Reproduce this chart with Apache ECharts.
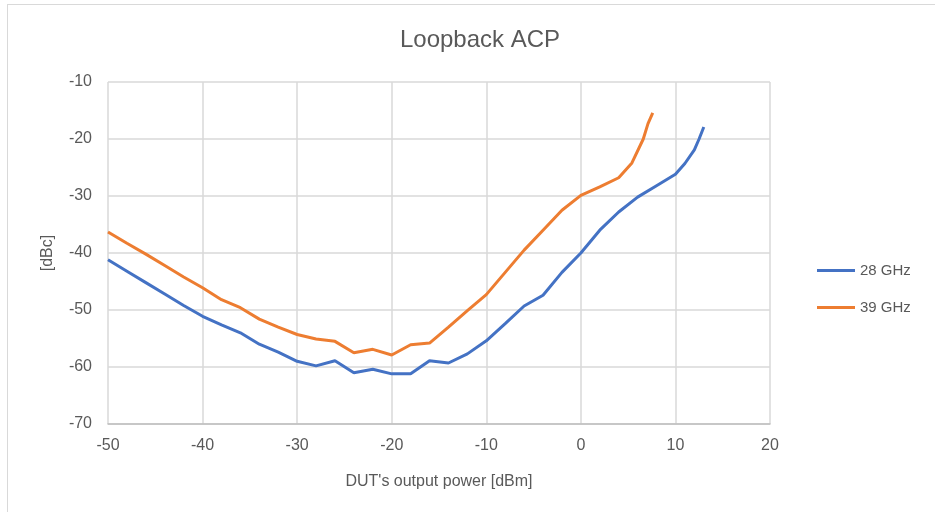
<!DOCTYPE html>
<html>
<head>
<meta charset="utf-8">
<script src="https://cdn.jsdelivr.net/npm/echarts@6/dist/echarts.min.js"></script>
<style>
  html, body { margin: 0; padding: 0; background: #fff; }
  #frame { position: absolute; left: 7px; top: 4px; width: 940px; height: 520px; border: 1px solid #d9d9d9; box-sizing: border-box; }
  #main { position: absolute; left: 0; top: 0; width: 935px; height: 512px; }
</style>
</head>
<body>
<div id="frame"></div>
<div id="main"></div>
<script>
// output power [dBm] and ACP [dBc]
const power28 = [-50, -48, -46, -44, -42, -40, -38, -36, -34, -32, -30, -28, -26, -24, -22, -20, -18, -16, -14, -12, -10, -8, -6, -4, -2, 0, 2, 4, 6, 8, 10, 11, 12, 12.5, 13];
const acp28 = [-41.2, -43.2, -45.2, -47.2, -49.2, -51.1, -52.6, -54.0, -56.0, -57.4, -59.0, -59.8, -58.9, -61.0, -60.4, -61.2, -61.2, -58.9, -59.3, -57.7, -55.4, -52.4, -49.3, -47.4, -43.4, -40.0, -36.0, -32.8, -30.2, -28.2, -26.2, -24.3, -21.9, -20.0, -17.9];

const power39 = [-50, -48, -46, -44, -42, -40, -38, -36, -34, -32, -30, -28, -26, -24, -22, -20, -18, -16, -14, -12, -10, -8, -6, -4, -2, 0, 2, 4, 5.4, 6.6, 7.1, 7.6];
const acp39 = [-36.3, -38.3, -40.2, -42.2, -44.2, -46.1, -48.2, -49.6, -51.6, -53.0, -54.3, -55.1, -55.5, -57.5, -56.9, -57.9, -56.1, -55.8, -53.0, -50.1, -47.3, -43.4, -39.5, -36.0, -32.5, -29.9, -28.4, -26.8, -24.2, -20.0, -17.3, -15.4];

const zip = (xs, ys) => xs.map((x, i) => [x, ys[i]]);

const chart = echarts.init(document.getElementById('main'), null, { renderer: 'canvas' });
const font = 'Liberation Sans, Arial, sans-serif';

chart.setOption({
  animation: false,
  textStyle: { fontFamily: font },
  title: {
    text: 'Loopback ACP',
    left: 475, top: 23, textAlign: 'center',
    textStyle: { fontSize: 24, fontWeight: 'normal', color: '#595959', fontFamily: font }
  },
  legend: {
    orient: 'vertical',
    left: 812, top: 258,
    itemGap: 22,
    itemWidth: 38, itemHeight: 3,
    icon: 'rect',
    textStyle: { fontSize: 15, color: '#595959', fontFamily: font },
    data: ['28 GHz', '39 GHz']
  },
  grid: { left: 108, right: 165, top: 82, bottom: 88 },
  xAxis: {
    type: 'value',
    min: -50, max: 20, interval: 10,
    name: "DUT's output power [dBm]",
    nameLocation: 'middle', nameGap: 50,
    nameTextStyle: { fontSize: 16, color: '#595959' },
    axisLine: { onZero: false, lineStyle: { color: '#bfbfbf', width: 1.5 } },
    axisTick: { show: false },
    axisLabel: { fontSize: 16, color: '#595959', margin: 14 },
    splitLine: { lineStyle: { color: '#d9d9d9', width: 1.5 } }
  },
  yAxis: {
    type: 'value',
    min: -70, max: -10, interval: 10,
    name: '[dBc]',
    nameLocation: 'middle', nameGap: 52, nameRotate: 90,
    nameTextStyle: { fontSize: 16, color: '#595959' },
    axisLine: { show: false },
    axisTick: { show: false },
    axisLabel: { fontSize: 16, color: '#595959', margin: 16 },
    splitLine: { lineStyle: { color: '#d9d9d9', width: 1.5 } }
  },
  series: [
    {
      name: '28 GHz', type: 'line', data: zip(power28, acp28),
      showSymbol: false, symbol: 'none',
      lineStyle: { color: '#4472C4', width: 3 },
      itemStyle: { color: '#4472C4' }
    },
    {
      name: '39 GHz', type: 'line', data: zip(power39, acp39),
      showSymbol: false, symbol: 'none',
      lineStyle: { color: '#ED7D31', width: 3 },
      itemStyle: { color: '#ED7D31' }
    }
  ]
});
</script>
</body>
</html>
